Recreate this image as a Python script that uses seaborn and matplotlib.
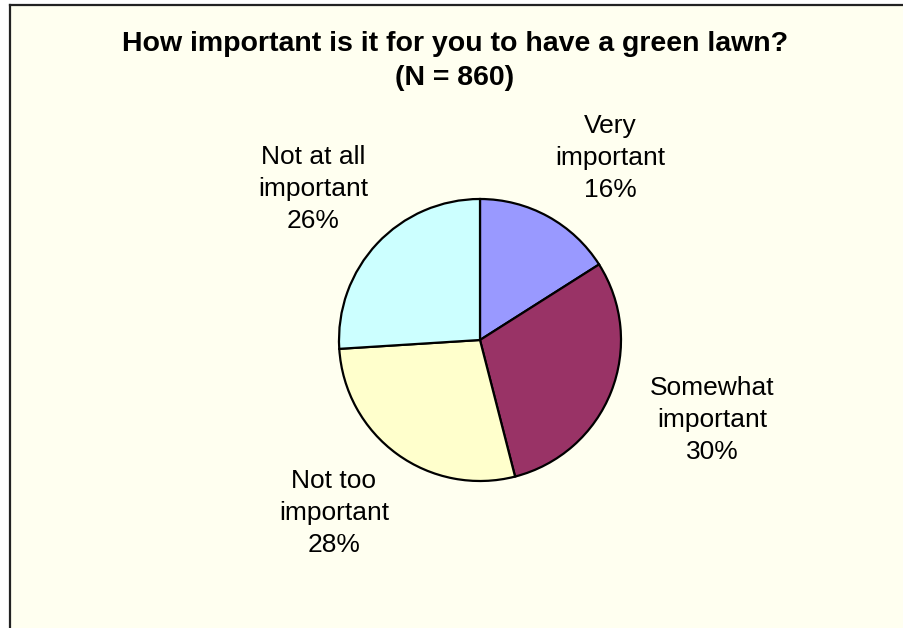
import matplotlib
matplotlib.use("Agg")
import matplotlib.pyplot as plt
import seaborn as sns

sns.set_theme(style="white")
plt.rcParams['font.family'] = ['Liberation Sans', 'DejaVu Sans']
plt.rcParams['text.color'] = 'black'

categories = ["Very\nimportant", "Somewhat\nimportant", "Not too\nimportant", "Not at all\nimportant"]
values = [16, 30, 28, 26]
colors = ["#9999FF", "#993366", "#FFFFCC", "#CCFFFF"]
title = "How important is it for you to have a green lawn?\n(N = 860)"

W, H = 904, 628
fig = plt.figure(figsize=(W / 100, H / 100), dpi=100)
fig.patch.set_facecolor("white")

# chart area with border (left/top visible)
bg = fig.add_axes([10 / W, 0, (W - 10) / W, (H - 5) / H])
bg.set_facecolor("#FFFFF0")
bg.set_xticks([]); bg.set_yticks([])
for s in ["left", "top"]:
    bg.spines[s].set_color("#222222")
    bg.spines[s].set_linewidth(1.6)
for s in ["right", "bottom"]:
    bg.spines[s].set_visible(False)

ax = fig.add_axes([0, 0, 1, 1])
ax.patch.set_alpha(0)

cx, cy, r = 480, H - 340, 141
ax.pie(values, colors=colors, startangle=90, counterclock=False,
       center=(cx, cy), radius=r, frame=True,
       wedgeprops=dict(edgecolor="black", linewidth=1.6))
ax.set_xlim(0, W)
ax.set_ylim(0, H)
ax.set_aspect("equal")
ax.axis("off")

label_pos = [(610, 158), (712, 420), (334, 513), (313, 189)]
for cat, v, (px, py) in zip(categories, values, label_pos):
    ax.text(px, H - py, f"{cat}\n{v}%", ha="center", va="center",
            fontsize=19, linespacing=1.42, color="black")

ax.text(455, H - 61, title, ha="center", va="center", fontsize=20.5,
        fontweight="bold", linespacing=1.4, color="black")

fig.savefig("out.png", dpi=100)
